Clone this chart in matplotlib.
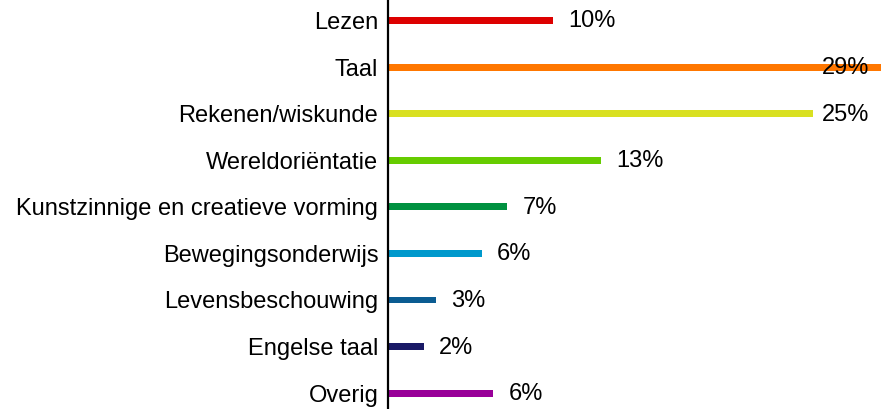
import matplotlib
matplotlib.use('Agg')
import matplotlib.pyplot as plt

categories = ['Lezen', 'Taal', 'Rekenen/wiskunde', 'Wereldoriëntatie',
              'Kunstzinnige en creatieve vorming', 'Bewegingsonderwijs',
              'Levensbeschouwing', 'Engelse taal', 'Overig']
# bar lengths (percent)
values = [9.7, 29, 25, 12.5, 7.0, 5.5, 2.8, 2.1, 6.2]
value_labels = ['10%', '29%', '25%', '13%', '7%', '6%', '3%', '2%', '6%']
colors = ['#DD0000', '#FF7700', '#D9E021', '#66CC00', '#009140',
          '#0099CC', '#0B5C92', '#1A1A66', '#990099']

plt.rcParams['font.family'] = ['Liberation Sans', 'DejaVu Sans']

fig = plt.figure(figsize=(8.81, 4.09), dpi=100)
ax = fig.add_axes([388 / 881, 0, 1 - 388 / 881, 1])

xmax = 29.0
y = list(range(len(categories)))
ax.barh(y, values, height=0.15, color=colors)

for i in range(len(values)):
    # the largest label is pulled back inside the plot area
    xpos = min(values[i] + 0.9, xmax - 3.5)
    ax.text(xpos, y[i] + 0.02, value_labels[i], va='center', ha='left', fontsize=17, color='black')

ax.set_xlim(0, xmax)
ax.set_ylim(8.34, -0.44)
ax.set_yticks(y)
ax.set_yticklabels(categories, fontsize=17)
ax.tick_params(axis='y', length=0, pad=7)
ax.set_xticks([])
for s in ['top', 'right', 'bottom']:
    ax.spines[s].set_visible(False)
ax.spines['left'].set_linewidth(1.6)
ax.spines['left'].set_color('black')

fig.savefig('out.png', dpi=100)
